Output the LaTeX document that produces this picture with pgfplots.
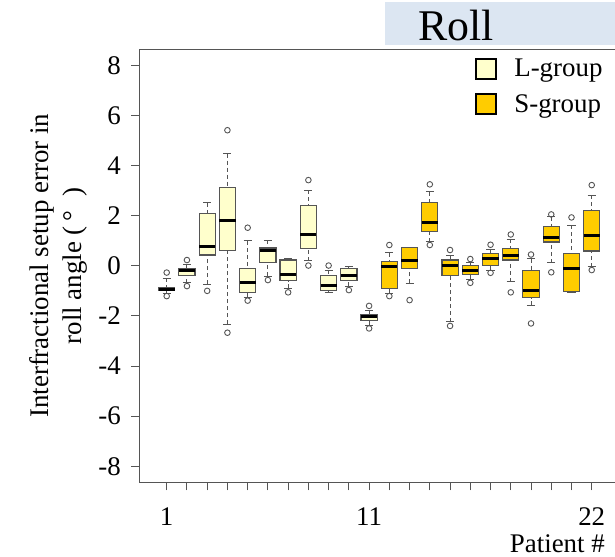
\documentclass[border=0pt]{standalone}
\usepackage{fontspec}
\setmainfont{Liberation Serif}
\usepackage{pgfplots}
\pgfplotsset{compat=1.18}
\usepgfplotslibrary{statistics}
\definecolor{lgrp}{HTML}{FFFFCC}
\definecolor{sgrp}{HTML}{FFCC00}
\definecolor{boxedge}{HTML}{555555}
\definecolor{titlebg}{HTML}{DCE6F2}
\pgfplotsset{
  /pgfplots/boxplot/draw/lower whisker/.code={%
    \draw[boxedge, line width=1bp, dash pattern=on 4bp off 3bp]
      (boxplot cs:\pgfplotsboxplotvalue{lower whisker}) -- (boxplot cs:\pgfplotsboxplotvalue{lower quartile});
    \draw[boxedge, line width=1bp, solid]
      (boxplot whisker cs:\pgfplotsboxplotvalue{lower whisker},0) -- (boxplot whisker cs:\pgfplotsboxplotvalue{lower whisker},1);
  },
  /pgfplots/boxplot/draw/upper whisker/.code={%
    \draw[boxedge, line width=1bp, dash pattern=on 4bp off 3bp]
      (boxplot cs:\pgfplotsboxplotvalue{upper whisker}) -- (boxplot cs:\pgfplotsboxplotvalue{upper quartile});
    \draw[boxedge, line width=1bp, solid]
      (boxplot whisker cs:\pgfplotsboxplotvalue{upper whisker},0) -- (boxplot whisker cs:\pgfplotsboxplotvalue{upper whisker},1);
  },
  bpbase/.style={forget plot, draw=boxedge, line width=1.1bp, solid,
    mark=o, mark size=2.8bp, mark options={solid, draw=boxedge, fill=none, line width=0.9bp},
    /pgfplots/boxplot/draw direction=y,
    /pgfplots/boxplot/box extend=0.8,
    /pgfplots/boxplot/whisker extend=0.4,
    /pgfplots/boxplot/every median/.style={black, line width=3bp},
  },
  bpL/.style={bpbase, /pgfplots/boxplot/every box/.style={fill=lgrp, draw=boxedge, line width=1.1bp}},
  bpS/.style={bpbase, /pgfplots/boxplot/every box/.style={fill=sgrp, draw=boxedge, line width=1.1bp}},
}
\newcommand{\bfs}{\fontsize{27}{33}\selectfont}
\begin{document}
\begin{tikzpicture}[x=1bp,y=1bp]
\useasboundingbox (0,0) rectangle (615,557);
\fill[titlebg] (385,512) rectangle (620,555);
\node[font=\fontsize{44}{48}\selectfont, inner sep=0pt] at (456,531.5) {Roll};
\begin{axis}[
  at={(139.3bp,74.7bp)}, anchor=south west,
  scale only axis, width=475.7bp, height=433bp,
  xmin=-0.354, xmax=23.15, ymin=-8.64, ymax=8.64,
  axis x line*=box, axis y line*=left,
  axis line style={boxedge, line width=1.2bp},
  tick align=outside, tick pos=left,
  major tick length=8bp,
  tick style={boxedge, line width=1bp},
  xtick={1,...,22},
  xticklabels={1,{},{},{},{},{},{},{},{},{},11,{},{},{},{},{},{},{},{},{},{},22},
  ytick={-8,-6,-4,-2,0,2,4,6,8},
  yticklabels={-8,-6,-4,-2,0,2,4,6,8},
  tick label style={font=\bfs},
  xticklabel style={yshift=-17bp, inner sep=0bp},
  yticklabel style={xshift=-7bp},
  ylabel={Interfractional setup error in\\roll angle (\,°\;\;)},
  ylabel style={font=\bfs, align=center, at={(axis description cs:-0.170,0.5)}, anchor=center},
  xlabel={Patient \#},
  xlabel style={font=\bfs, inner sep=0bp, at={(axis description cs:0.979,-0.141)}, anchor=east},
  legend image code/.code={\draw[#1] (0bp,-10bp) rectangle (20bp,10bp);},
  legend style={draw=none, fill=none, at={(axis description cs:0.706,0.982)}, anchor=north west,
    font=\bfs, row sep=12bp, inner sep=0pt},
  legend cell align=left,
  clip=false,
]
% L-group (patients 1-11)
\addplot[bpL, boxplot prepared={draw position=1, lower whisker=-1.10, lower quartile=-1.00, median=-0.93, upper quartile=-0.86, upper whisker=-0.50}] coordinates {(0,-0.27) (0,-1.21)};
\addplot[bpL, boxplot prepared={draw position=2, lower whisker=-0.68, lower quartile=-0.37, median=-0.20, upper quartile=-0.12, upper whisker=0.07}] coordinates {(0,0.23) (0,-0.81)};
\addplot[bpL, boxplot prepared={draw position=3, lower whisker=-0.73, lower quartile=0.43, median=0.79, upper quartile=2.09, upper whisker=2.51}] coordinates {(0,-1.00)};
\addplot[bpL, boxplot prepared={draw position=4, lower whisker=-2.33, lower quartile=0.60, median=1.82, upper quartile=3.11, upper whisker=4.48}] coordinates {(0,5.41) (0,-2.67)};
\addplot[bpL, boxplot prepared={draw position=5, lower whisker=-1.26, lower quartile=-1.06, median=-0.66, upper quartile=-0.09, upper whisker=0.99}] coordinates {(0,1.52) (0,-1.39)};
\addplot[bpL, boxplot prepared={draw position=6, lower whisker=-0.41, lower quartile=0.12, median=0.60, upper quartile=0.71, upper whisker=1.01}] coordinates {(0,-0.57)};
\addplot[bpL, boxplot prepared={draw position=7, lower whisker=-0.90, lower quartile=-0.60, median=-0.33, upper quartile=0.23, upper whisker=0.31}] coordinates {(0,-1.06)};
\addplot[bpL, boxplot prepared={draw position=8, lower whisker=0.20, lower quartile=0.69, median=1.24, upper quartile=2.42, upper whisker=3.02}] coordinates {(0,3.42) (0,0.01)};
\addplot[bpL, boxplot prepared={draw position=9, lower whisker=-1.05, lower quartile=-1.00, median=-0.80, upper quartile=-0.37, upper whisker=-0.17}] coordinates {(0,0.01)};
\addplot[bpL, boxplot prepared={draw position=10, lower whisker=-0.81, lower quartile=-0.60, median=-0.37, upper quartile=-0.09, upper whisker=-0.01}] coordinates {(0,-0.97)};
\addplot[bpL, boxplot prepared={draw position=11, lower whisker=-2.37, lower quartile=-2.19, median=-2.03, upper quartile=-1.93, upper whisker=-1.77}] coordinates {(0,-1.60) (0,-2.50)};
% S-group (patients 12-22)
\addplot[bpS, boxplot prepared={draw position=12, lower whisker=-1.10, lower quartile=-0.90, median=-0.01, upper quartile=0.16, upper whisker=0.52}] coordinates {(0,0.83) (0,-1.21)};
\addplot[bpS, boxplot prepared={draw position=13, lower whisker=-0.70, lower quartile=-0.10, median=0.23, upper quartile=0.72, upper whisker=0.72}] coordinates {(0,-1.37)};
\addplot[bpS, boxplot prepared={draw position=14, lower whisker=0.96, lower quartile=1.36, median=1.72, upper quartile=2.51, upper whisker=2.95}] coordinates {(0,3.25) (0,0.83)};
\addplot[bpS, boxplot prepared={draw position=15, lower whisker=-2.23, lower quartile=-0.37, median=0.03, upper quartile=0.23, upper whisker=0.43}] coordinates {(0,0.63) (0,-2.40)};
\addplot[bpS, boxplot prepared={draw position=16, lower whisker=-0.54, lower quartile=-0.34, median=-0.17, upper quartile=0.00, upper whisker=0.12}] coordinates {(0,0.27) (0,-0.68)};
\addplot[bpS, boxplot prepared={draw position=17, lower whisker=-0.17, lower quartile=0.01, median=0.29, upper quartile=0.49, upper whisker=0.65}] coordinates {(0,0.84) (0,-0.28)};
\addplot[bpS, boxplot prepared={draw position=18, lower whisker=-0.64, lower quartile=0.23, median=0.43, upper quartile=0.69, upper whisker=1.05}] coordinates {(0,1.25) (0,-1.06)};
\addplot[bpS, boxplot prepared={draw position=19, lower whisker=-1.58, lower quartile=-1.28, median=-1.00, upper quartile=-0.20, upper whisker=0.29}] coordinates {(0,0.45) (0,-2.30)};
\addplot[bpS, boxplot prepared={draw position=20, lower whisker=0.12, lower quartile=0.95, median=1.13, upper quartile=1.56, upper whisker=1.96}] coordinates {(0,2.05) (0,-0.26)};
\addplot[bpS, boxplot prepared={draw position=21, lower whisker=-1.06, lower quartile=-1.01, median=-0.10, upper quartile=0.49, upper whisker=1.62}] coordinates {(0,1.93)};
\addplot[bpS, boxplot prepared={draw position=22, lower whisker=-0.04, lower quartile=0.59, median=1.22, upper quartile=2.19, upper whisker=2.82}] coordinates {(0,3.22) (0,-0.17)};
\addlegendimage{draw=black, line width=2bp, fill=lgrp}
\addlegendentry{\hspace{15bp}L-group}
\addlegendimage{draw=black, line width=2bp, fill=sgrp}
\addlegendentry{\hspace{15bp}S-group}
\end{axis}
\end{tikzpicture}
\end{document}
